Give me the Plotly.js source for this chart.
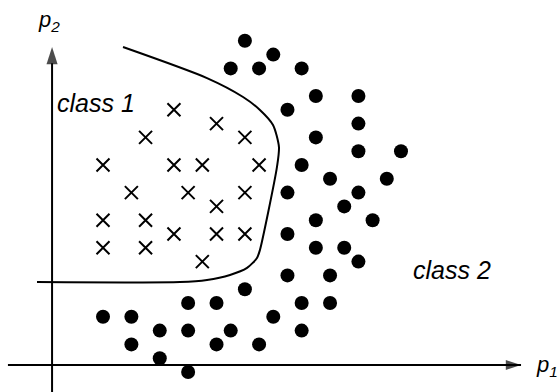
<!DOCTYPE html>
<html>
<head>
<meta charset="utf-8">
<script src="https://cdn.plot.ly/plotly-3.0.1.min.js"></script>
<style>html,body{margin:0;padding:0;background:#fff;}#chart{width:560px;height:392px;}</style>
</head>
<body>
<div id="chart"></div>
<script>
// Class 1 samples (crosses), in grid units of p1 / p2
const class1P1 = [5, 8, 3, 10, 0, 5, 7, 11, 2, 6, 10, 8, 0, 3, 5, 8, 10, 0, 3, 7];
const class1P2 = [19, 18, 17, 17, 15, 15, 15, 15, 13, 13, 13, 12, 11, 11, 10, 10, 10, 9, 9, 8];

// Class 2 samples (dots)
const class2P1 = [10, 12, 9, 11, 14, 15, 18, 13, 18, 15, 18, 21, 14, 16, 20, 13, 18, 17, 15, 19,
                  13, 15, 17, 18, 13, 16, 10, 6, 8, 14, 16, 0, 2, 12, 4, 6, 9, 14, 2, 8, 11, 4, 6];
const class2P2 = [24, 23, 22, 22, 22, 20, 20, 19, 18, 17, 16, 16, 15, 14, 14, 13, 13, 12, 11, 11,
                  10, 9, 9, 8, 7, 7, 6, 5, 5, 5, 5, 4, 4, 4, 3, 3, 3, 3, 2, 2, 2, 1, 0];

// Decision boundary
const boundaryP1 = [-4.65, 5.43, 7.33, 8.95, 10.15, 10.85, 11.06, 11.63, 12.26, 12.40, 11.98, 11.06, 9.87, 7.33, 1.41];
const boundaryP2 = [6.52, 6.52, 6.67, 7.03, 7.54, 8.26, 8.84, 11.52, 14.86, 16.30, 17.90, 18.99, 19.93, 21.30, 23.55];

// Coordinate axes (drawn inside the figure)
const axisP2X = [-3.59, -3.59];
const axisP2Y = [-1.6, 23.55];
const axisP1X = [-6.70, 29.46];
const axisP1Y = [0.51, 0.51];

// Labels
const labelClass1 = "class 1";
const labelClass2 = "class 2";
const labelP1 = "p<sub>1</sub>";
const labelP2 = "p<sub>2</sub>";

const fam = "Liberation Sans, Arial, sans-serif";

const traces = [
  {
    x: axisP2X, y: axisP2Y, type: "scatter", mode: "lines+markers",
    line: {color: "#000", width: 2},
    marker: {symbol: "arrow", size: [0, 18], angle: 0, color: "#000", line: {width: 0}},
    hoverinfo: "skip", showlegend: false
  },
  {
    x: axisP1X, y: axisP1Y, type: "scatter", mode: "lines+markers",
    line: {color: "#000", width: 2},
    marker: {symbol: "arrow", size: [0, 16], angle: 90, color: "#000", line: {width: 0}},
    hoverinfo: "skip", showlegend: false
  },
  {
    x: boundaryP1, y: boundaryP2, type: "scatter", mode: "lines",
    line: {color: "#000", width: 2, shape: "spline", smoothing: 0.7},
    hoverinfo: "skip", showlegend: false
  },
  {
    x: class1P1, y: class1P2, type: "scatter", mode: "markers",
    marker: {symbol: "x-thin-open", size: 13, color: "#000", line: {color: "#000", width: 2}},
    showlegend: false
  },
  {
    x: class2P1, y: class2P2, type: "scatter", mode: "markers",
    marker: {symbol: "circle", size: 14, color: "#000"},
    showlegend: false
  }
];

const layout = {
  width: 560, height: 392,
  margin: {l: 0, r: 0, t: 0, b: 0},
  paper_bgcolor: "#fff", plot_bgcolor: "#fff",
  font: {family: fam, color: "#000"},
  xaxis: {range: [-7.259, 32.206], visible: false, fixedrange: true},
  yaxis: {range: [-1.449, 26.957], visible: false, fixedrange: true},
  showlegend: false,
  annotations: [
    {x: -4.7, y: 25.4, xref: "x", yref: "y", xanchor: "left", yanchor: "middle", showarrow: false,
     text: labelP2, font: {family: fam, size: 22, color: "#000", style: "italic"}},
    {x: 30.4, y: 0.4, xref: "x", yref: "y", xanchor: "left", yanchor: "middle", showarrow: false,
     text: labelP1, font: {family: fam, size: 22, color: "#000", style: "italic"}},
    {x: -3.4, y: 19.5, xref: "x", yref: "y", xanchor: "left", yanchor: "middle", showarrow: false,
     text: labelClass1, font: {family: fam, size: 25, color: "#000", style: "italic"}},
    {x: 21.7, y: 7.4, xref: "x", yref: "y", xanchor: "left", yanchor: "middle", showarrow: false,
     text: labelClass2, font: {family: fam, size: 25, color: "#000", style: "italic"}}
  ]
};

Plotly.newPlot("chart", traces, layout, {staticPlot: true, displayModeBar: false});
</script>
</body>
</html>
